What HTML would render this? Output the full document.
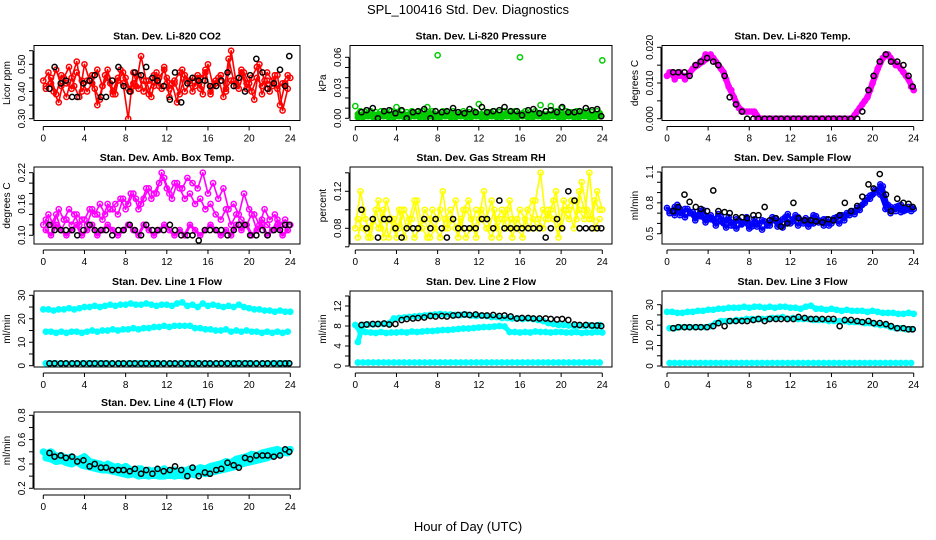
<!DOCTYPE html>
<html><head><meta charset="utf-8"><style>
html,body{margin:0;padding:0;background:#fff;}
svg{display:block;font-family:"Liberation Sans",sans-serif;}
</style></head><body>
<svg id="chart" width="936" height="540" viewBox="0 0 936 540">
<text x="468" y="14" text-anchor="middle" font-size="13">SPL_100416  Std. Dev. Diagnostics</text>
<text x="468" y="531" text-anchor="middle" font-size="13">Hour of Day (UTC)</text>
</svg>
<script>
// ---- data ----
const xTicks = [0,4,8,12,16,20,24];
const hoursA = Array.from({length:49},(_, i)=>i*0.5);
const hoursB = Array.from({length:48},(_, i)=>i*0.5+0.25);
const hoursK = [0.6,1.1,1.7,2.2,2.8,3.3,3.9,4.5,5.0,5.6,6.1,6.7,7.3,7.8,8.4,8.9,9.5,10.0,10.6,11.1,11.7,12.3,12.8,13.4,14.0,14.5,15.1,15.7,16.2,16.8,17.3,17.9,18.5,19.0,19.6,20.1,20.7,21.3,21.8,22.4,23.0,23.5,23.9];

const co2A = [0.44,0.47,0.40,0.36,0.45,0.49,0.42,0.38,0.50,0.44,0.41,0.37,0.46,0.43,0.39,0.48,0.45,0.40,0.42,0.53,0.44,0.38,0.47,0.41,0.45,0.43,0.36,0.48,0.44,0.40,0.46,0.39,0.50,0.42,0.45,0.38,0.52,0.44,0.41,0.47,0.43,0.37,0.50,0.44,0.40,0.46,0.35,0.43,0.45];
const co2B = [0.41,0.43,0.48,0.42,0.38,0.45,0.51,0.40,0.44,0.46,0.35,0.42,0.48,0.40,0.45,0.43,0.30,0.47,0.41,0.44,0.39,0.46,0.42,0.49,0.38,0.44,0.47,0.40,0.43,0.45,0.41,0.48,0.39,0.44,0.46,0.40,0.55,0.43,0.47,0.41,0.45,0.49,0.39,0.44,0.42,0.46,0.33,0.41];
const co2C = [0.42,0.45,0.39,0.46,0.43,0.41,0.47,0.44,0.40,0.43,0.48,0.42,0.45,0.39,0.44,0.47,0.41,0.43,0.46,0.40,0.44,0.42,0.45,0.48,0.41,0.43,0.39,0.46,0.44,0.42,0.45,0.47,0.40,0.43,0.46,0.41,0.44,0.42,0.48,0.43,0.40,0.45,0.42,0.47,0.44,0.41,0.43,0.46];
const co2K = [0.41,0.49,0.43,0.44,0.38,0.38,0.43,0.44,0.46,0.38,0.38,0.44,0.49,0.42,0.40,0.47,0.46,0.49,0.45,0.44,0.42,0.37,0.47,0.36,0.43,0.45,0.44,0.44,0.42,0.42,0.44,0.47,0.42,0.45,0.40,0.46,0.52,0.47,0.41,0.43,0.48,0.42,0.53];

const presA = [0.012,0.007,0.006,0.007,0.006,0.007,0.006,0.007,0.011,0.007,0.006,0.007,0.006,0.007,0.011,0.007,0.062,0.007,0.006,0.007,0.006,0.007,0.006,0.007,0.014,0.007,0.006,0.007,0.006,0.007,0.006,0.007,0.060,0.007,0.006,0.007,0.013,0.007,0.012,0.007,0.010,0.007,0.006,0.007,0.006,0.007,0.006,0.007,0.057];
const presB = [0.004,0.004,0.005,0.004,0.004,0.005,0.004,0.004,0.005,0.004,0.004,0.005,0.004,0.004,0.005,0.004,0.004,0.005,0.004,0.004,0.005,0.004,0.004,0.005,0.004,0.004,0.005,0.004,0.004,0.005,0.004,0.004,0.005,0.004,0.004,0.005,0.004,0.004,0.005,0.004,0.004,0.005,0.004,0.004,0.005,0.004,0.004,0.005];
const presC = [0.001,0.001,0.002,0.001,0.001,0.002,0.001,0.001,0.002,0.001,0.001,0.002,0.001,0.001,0.002,0.001,0.001,0.002,0.001,0.001,0.002,0.001,0.001,0.002,0.001,0.001,0.002,0.001,0.001,0.002,0.001,0.001,0.002,0.001,0.001,0.002,0.001,0.001,0.002,0.001,0.001,0.002,0.001,0.001,0.002,0.001,0.001,0.002];
const presK = [0.006,0.008,0.010,0.000,0.007,0.008,0.005,0.008,0.000,0.006,0.007,0.009,0.000,0.007,0.006,0.007,0.010,0.006,0.005,0.009,0.006,0.011,0.006,0.007,0.008,0.011,0.007,0.007,0.003,0.008,0.009,0.005,0.007,0.008,0.006,0.011,0.006,0.006,0.007,0.010,0.008,0.009,0.002];

const tempA = [0.012,0.013,0.012,0.012,0.012,0.014,0.015,0.016,0.017,0.017,0.015,0.013,0.009,0.006,0.003,0.002,0.002,0.002,0,0,0,0,0,0,0,0,0,0,0,0,0,0,0,0,0,0,0,0.002,0.004,0.006,0.010,0.014,0.017,0.018,0.016,0.015,0.013,0.011,0.008];
const tempB = [0.013,0.011,0.013,0.011,0.013,0.015,0.016,0.018,0.018,0.016,0.014,0.011,0.008,0.004,0.002,0.002,0.002,0,0,0,0,0,0,0,0,0,0,0,0,0,0,0,0,0,0,0,0.001,0.003,0.005,0.008,0.012,0.016,0.018,0.017,0.015,0.014,0.012,0.009];
const tempK = [0.013,0.013,0.013,0.012,0.015,0.016,0.017,0.016,0.015,0.012,0.006,0.004,0.002,0,0,0,0,0,0,0,0,0,0,0,0,0,0,0,0,0,0,0,0,0.002,0.008,0.012,0.016,0.018,0.016,0.016,0.015,0.012,0.009];

const ambA = [0.12,0.14,0.12,0.15,0.13,0.15,0.14,0.12,0.13,0.15,0.14,0.16,0.14,0.15,0.16,0.17,0.15,0.18,0.17,0.16,0.19,0.17,0.18,0.22,0.19,0.17,0.20,0.19,0.21,0.20,0.19,0.22,0.18,0.20,0.17,0.19,0.15,0.16,0.14,0.18,0.15,0.14,0.12,0.15,0.13,0.14,0.12,0.13,0.12];
const ambB = [0.11,0.10,0.12,0.11,0.10,0.11,0.12,0.10,0.11,0.12,0.10,0.11,0.12,0.11,0.10,0.11,0.12,0.11,0.10,0.12,0.11,0.10,0.11,0.12,0.11,0.10,0.11,0.10,0.12,0.11,0.10,0.11,0.12,0.11,0.10,0.11,0.10,0.12,0.11,0.12,0.10,0.11,0.12,0.10,0.11,0.12,0.10,0.11];
const ambC = [0.13,0.12,0.14,0.11,0.13,0.12,0.14,0.13,0.12,0.15,0.14,0.13,0.16,0.15,0.14,0.17,0.16,0.18,0.15,0.17,0.19,0.18,0.20,0.21,0.18,0.20,0.19,0.17,0.18,0.16,0.17,0.15,0.16,0.14,0.13,0.15,0.12,0.14,0.13,0.12,0.14,0.11,0.13,0.12,0.11,0.13,0.12,0.11];
const ambK = [0.12,0.11,0.11,0.11,0.11,0.10,0.11,0.12,0.11,0.11,0.11,0.10,0.11,0.11,0.12,0.11,0.10,0.12,0.11,0.11,0.11,0.12,0.11,0.10,0.10,0.10,0.09,0.11,0.11,0.11,0.11,0.10,0.11,0.12,0.12,0.10,0.10,0.11,0.10,0.11,0.11,0.12,0.12];

const rhA = [0.08,0.12,0.09,0.07,0.10,0.08,0.11,0.09,0.07,0.10,0.08,0.09,0.11,0.08,0.07,0.10,0.09,0.12,0.08,0.09,0.07,0.10,0.11,0.08,0.09,0.12,0.08,0.10,0.07,0.09,0.11,0.08,0.10,0.09,0.08,0.11,0.14,0.09,0.10,0.12,0.08,0.10,0.11,0.09,0.13,0.10,0.09,0.12,0.10];
const rhB = [0.09,0.08,0.07,0.09,0.08,0.10,0.07,0.09,0.08,0.10,0.09,0.07,0.08,0.10,0.09,0.08,0.07,0.09,0.10,0.08,0.09,0.07,0.08,0.10,0.09,0.08,0.07,0.09,0.10,0.08,0.09,0.08,0.07,0.10,0.09,0.08,0.10,0.09,0.11,0.08,0.10,0.09,0.11,0.10,0.09,0.14,0.08,0.09];
const rhC = [0.07,0.10,0.08,0.09,0.11,0.07,0.09,0.08,0.10,0.07,0.09,0.11,0.08,0.09,0.07,0.08,0.10,0.08,0.09,0.11,0.08,0.10,0.09,0.07,0.10,0.09,0.11,0.08,0.09,0.10,0.07,0.09,0.08,0.10,0.11,0.09,0.08,0.10,0.09,0.07,0.11,0.10,0.08,0.12,0.10,0.09,0.11,0.10];
const rhK = [0.10,0.08,0.09,0.07,0.09,0.09,0.08,0.07,0.08,0.08,0.08,0.09,0.08,0.09,0.08,0.07,0.09,0.08,0.08,0.08,0.08,0.09,0.09,0.08,0.11,0.08,0.08,0.08,0.08,0.08,0.08,0.08,0.07,0.08,0.09,0.08,0.12,0.11,0.08,0.08,0.08,0.08,0.08];

const flowA = [0.75,0.72,0.78,0.70,0.74,0.71,0.68,0.73,0.66,0.64,0.69,0.60,0.66,0.58,0.63,0.61,0.55,0.64,0.60,0.62,0.58,0.65,0.62,0.66,0.60,0.68,0.63,0.65,0.60,0.67,0.62,0.64,0.60,0.66,0.68,0.70,0.72,0.75,0.78,0.85,0.88,0.92,0.96,0.78,0.74,0.77,0.72,0.76,0.74];
const flowB = [0.70,0.76,0.68,0.74,0.70,0.66,0.72,0.64,0.68,0.62,0.66,0.63,0.58,0.64,0.60,0.66,0.59,0.57,0.63,0.60,0.66,0.57,0.64,0.69,0.62,0.66,0.60,0.63,0.68,0.61,0.64,0.58,0.65,0.67,0.63,0.70,0.69,0.73,0.80,0.84,0.90,0.98,0.80,0.76,0.72,0.78,0.73,0.75];
const flowC = [0.72,0.68,0.74,0.66,0.70,0.63,0.67,0.61,0.64,0.58,0.62,0.56,0.61,0.55,0.59,0.62,0.57,0.60,0.54,0.58,0.63,0.60,0.56,0.61,0.64,0.58,0.62,0.57,0.60,0.63,0.58,0.61,0.63,0.60,0.66,0.68,0.72,0.76,0.82,0.87,0.93,0.88,0.74,0.70,0.76,0.71,0.74,0.72];
const flowK = [0.72,0.76,0.88,0.81,0.76,0.74,0.72,0.92,0.72,0.71,0.70,0.66,0.66,0.65,0.68,0.68,0.76,0.63,0.65,0.57,0.60,0.80,0.65,0.63,0.63,0.62,0.61,0.64,0.63,0.68,0.80,0.72,0.77,0.86,0.98,0.94,1.08,0.88,0.72,0.84,0.80,0.79,0.76];

const l1A = [24,24,23.5,24,24,24.5,24,24.5,25,25,25.5,25,25.5,26,25.5,26,26,26.5,26,26,26.5,26,25.5,26,26,25.5,26.5,27,25.5,26,25,26.5,25.5,26,25.5,25,25.5,25,26,25,24.5,24,24,23.5,23.5,23,23.5,23,23];
const l1B = [14.5,14.5,14,14.5,14,14.5,14.5,14,14.5,15,14.5,15,15,15.5,15,15.5,15.5,16,15.5,16,16,16.5,16.5,17,16.5,17,17,17,17,16,16,15.5,15.5,15,15,15.5,14.5,15,14.5,15,14.5,14.5,14,14.5,14,14.5,14,14.5];
const l1C = [1,1,1,1,1,1,1,1,1,1,1,1,1,1,1,1,1,1,1,1,1,1,1,1,1,1,1,1,1,1,1,1,1,1,1,1,1,1,1,1,1,1,1,1,1,1,1,1];
const l1K = [1,1,1,1,1,1,1,1,1,1,1,1,1,1,1,1,1,1,1,1,1,1,1,1,1,1,1,1,1,1,1,1,1,1,1,1,1,1,1,1,1,1,1];

const l2A = [8.2,6.8,6.8,6.7,6.6,6.8,6.6,6.7,6.7,6.8,6.7,6.9,6.8,6.9,7.0,7.0,7.1,7.2,7.2,7.3,7.4,7.5,7.5,7.6,7.7,7.8,7.8,7.9,8.0,7.9,6.8,6.8,6.7,6.8,6.7,6.9,6.8,6.8,6.7,6.8,6.8,6.7,6.7,6.8,6.6,6.7,6.7,6.8,6.7];
const l2B = [0.7,0.7,0.7,0.7,0.7,0.7,0.7,0.7,0.7,0.7,0.7,0.7,0.7,0.7,0.7,0.7,0.7,0.7,0.7,0.7,0.7,0.7,0.7,0.7,0.7,0.7,0.7,0.7,0.7,0.7,0.7,0.7,0.7,0.7,0.7,0.7,0.7,0.7,0.7,0.7,0.7,0.7,0.7,0.7,0.7,0.7,0.7,0.7];
const l2C = [4.8,8.2,8.3,8.3,8.4,8.4,8.5,9.5,9.6,9.7,9.8,9.9,10.0,10.1,10.2,10.3,10.4,10.3,10.3,10.2,10.2,10.3,10.1,10.0,10.1,10.0,9.8,9.8,9.6,9.6,9.5,9.5,9.4,9.5,9.4,9.2,9.0,8.6,8.4,8.2,8.2,8.1,8.0,8.1,8.0,8.1,8.0,8.2];
const l2K = [8.2,8.3,8.4,8.4,8.5,8.3,8.4,9.2,9.4,9.5,9.6,9.7,10.0,9.9,10.0,9.9,10.1,10.2,10.3,10.2,10.3,10.1,10.1,10.2,10.0,10.1,9.9,9.5,9.6,9.6,9.5,9.5,9.5,9.4,9.3,9.4,9.2,8.3,8.2,8.2,8.1,8.1,8.0];

const l3A = [26.5,26.5,26,26,26.5,26.5,27,27,27.5,27.5,28,28,28.5,28.5,28.5,29,28.5,29,29,28.5,29,28.5,29,29,28.5,28.5,28,29,29.5,28,28,27.5,28,27.5,27,27.5,27,27,27,26.5,27,26.5,26,26,26,25.5,25.5,26,25.5];
const l3B = [1.5,1.5,1.5,1.5,1.5,1.5,1.5,1.5,1.5,1.5,1.5,1.5,1.5,1.5,1.5,1.5,1.5,1.5,1.5,1.5,1.5,1.5,1.5,1.5,1.5,1.5,1.5,1.5,1.5,1.5,1.5,1.5,1.5,1.5,1.5,1.5,1.5,1.5,1.5,1.5,1.5,1.5,1.5,1.5,1.5,1.5,1.5,1.5];
const l3C = [18.5,18.5,19,19,19,19,19,19,19.5,21,22,22,22,22.5,22.5,23,23,23,23,23,23.5,23.5,24,23,23.5,23,23,23,22.5,22.5,22.5,22,22,22,22,21.5,21.5,21.5,21,21,20.5,20,20,19,18.5,18.5,18,18];
const l3K = [18.5,19,19,19,19,19,19,19.5,21,19.5,22,22,22,22,22.5,23,22,23,23,23,23,23,24,23.5,23,23,23,23,23,19.5,22.5,22.5,22,21.5,22,21,21,20.5,19.5,18.5,18.5,18,18];

const l4A = [0.50,0.48,0.47,0.46,0.45,0.45,0.44,0.43,0.46,0.42,0.41,0.40,0.38,0.39,0.37,0.36,0.38,0.35,0.34,0.36,0.33,0.34,0.35,0.33,0.34,0.32,0.33,0.35,0.33,0.34,0.35,0.33,0.36,0.37,0.38,0.39,0.38,0.40,0.41,0.43,0.44,0.45,0.46,0.47,0.48,0.49,0.50,0.51,0.52];
const l4B = [0.45,0.44,0.42,0.43,0.41,0.40,0.42,0.39,0.38,0.37,0.36,0.35,0.35,0.34,0.33,0.32,0.31,0.32,0.30,0.31,0.30,0.31,0.30,0.30,0.31,0.30,0.31,0.30,0.32,0.31,0.33,0.32,0.33,0.34,0.35,0.36,0.37,0.38,0.40,0.41,0.42,0.43,0.44,0.45,0.47,0.48,0.49,0.50];
const l4C = [0.48,0.50,0.46,0.47,0.44,0.46,0.43,0.45,0.40,0.41,0.39,0.37,0.40,0.36,0.38,0.35,0.36,0.34,0.36,0.33,0.35,0.32,0.34,0.36,0.33,0.35,0.32,0.34,0.36,0.35,0.37,0.36,0.38,0.39,0.40,0.42,0.41,0.44,0.45,0.46,0.48,0.47,0.49,0.50,0.51,0.52,0.50,0.49];
const l4K = [0.49,0.46,0.47,0.45,0.46,0.42,0.43,0.38,0.40,0.37,0.37,0.35,0.35,0.35,0.34,0.36,0.32,0.35,0.32,0.36,0.34,0.35,0.38,0.35,0.30,0.37,0.30,0.33,0.32,0.35,0.36,0.41,0.39,0.37,0.45,0.44,0.47,0.47,0.47,0.46,0.47,0.52,0.50];

// ---- y-axis tick arrays ----
const co2Ticks=[0.30,0.35,0.40,0.45,0.50,0.55], co2Labels=["0.30","","0.40","","0.50",""];
const presTicks=[0,0.01,0.02,0.03,0.04,0.05,0.06], presLabels=["0.00","","","0.03","","","0.06"];
const tempTicks=[0,0.005,0.010,0.015,0.020], tempLabels=["0.000","","0.010","","0.020"];
const ambTicks=[0.10,0.12,0.14,0.16,0.18,0.20,0.22], ambLabels=["0.10","","","0.16","","","0.22"];
const rhTicks=[0.06,0.08,0.10,0.12,0.14], rhLabels=["","0.08","","0.12",""];
const flowTicks=[0.5,0.6,0.7,0.8,0.9,1.0,1.1], flowLabels=["0.5","","","0.8","","","1.1"];
const l1Ticks=[0,5,10,15,20,25,30], l1Labels=["0","","10","","20","","30"];
const l2Ticks=[0,2,4,6,8,10,12,14], l2Labels=["0","","4","","8","","12",""];
const l3Ticks=[0,5,10,15,20,25,30], l3Labels=["0","","10","","20","","30"];
const l4Ticks=[0.2,0.3,0.4,0.5,0.6,0.7,0.8], l4Labels=["0.2","","0.4","","0.6","","0.8"];

// ---- layout ----
const NS="http://www.w3.org/2000/svg";
const svg=document.getElementById('chart');
const cols=[{l:34,r:300,x0:43.3,x24:290.3},{l:350,r:612,x0:355.3,x24:602.3},{l:662,r:923,x0:667,x24:913.7}];
const rows=[{t:45.5,b:120.5},{t:167,b:244},{t:291,b:367},{t:412,b:489}];

const panels=[
 {name:'co2',title:'Stan. Dev. Li-820 CO2',ylab:'Licor ppm',c:0,r:0,v1:0.30,p1:118.7,v2:0.50,p2:64.3,ticks:co2Ticks,labels:co2Labels,color:'#ff0000',series:[co2A,co2B,co2C],black:co2K,lw:[1.6,1.6,1.6]},
 {name:'pressure',title:'Stan. Dev. Li-820 Pressure',ylab:'kPa',c:1,r:0,v1:0,p1:118.3,v2:0.06,p2:57.3,ticks:presTicks,labels:presLabels,color:'#00cc00',series:[presA,presB,presC],black:presK,lw:[0,5,5]},
 {name:'temp',title:'Stan. Dev. Li-820 Temp.',ylab:'degrees C',c:2,r:0,v1:0,p1:118.7,v2:0.020,p2:47.3,ticks:tempTicks,labels:tempLabels,color:'#ff00ff',series:[tempA,tempB],black:tempK,lw:[6,4]},
 {name:'amb-box',title:'Stan. Dev. Amb. Box Temp.',ylab:'degrees C',c:0,r:1,v1:0.10,p1:235.3,v2:0.22,p2:172.7,ticks:ambTicks,labels:ambLabels,color:'#ff00ff',series:[ambA,ambB,ambC],black:ambK,lw:[1.6,3,1.6]},
 {name:'gas-rh',title:'Stan. Dev. Gas Stream RH',ylab:'percent',c:1,r:1,v1:0.08,p1:228.3,v2:0.12,p2:191.3,ticks:rhTicks,labels:rhLabels,color:'#ffff00',series:[rhA,rhB,rhC],black:rhK,lw:[1.6,1.6,1.6]},
 {name:'sample-flow',title:'Stan. Dev. Sample Flow',ylab:'ml/min',c:2,r:1,v1:0.5,p1:233.7,v2:1.1,p2:172,ticks:flowTicks,labels:flowLabels,color:'#0000ff',series:[flowA,flowB,flowC],black:flowK,lw:[3,3,3]},
 {name:'line1',title:'Stan. Dev. Line 1 Flow',ylab:'ml/min',c:0,r:2,v1:0,p1:365.7,v2:30,p2:295.3,ticks:l1Ticks,labels:l1Labels,color:'#00ffff',series:[l1A,l1B,l1C],black:l1K,lw:[4,4,4]},
 {name:'line2',title:'Stan. Dev. Line 2 Flow',ylab:'ml/min',c:1,r:2,v1:0,p1:366,v2:12,p2:306,ticks:l2Ticks,labels:l2Labels,color:'#00ffff',series:[l2A,l2B,l2C],black:l2K,lw:[5,4,5]},
 {name:'line3',title:'Stan. Dev. Line 3 Flow',ylab:'ml/min',c:2,r:2,v1:0,p1:366,v2:30,p2:304.7,ticks:l3Ticks,labels:l3Labels,color:'#00ffff',series:[l3A,l3B,l3C],black:l3K,lw:[5,4,5]},
 {name:'line4',title:'Stan. Dev. Line 4 (LT) Flow',ylab:'ml/min',c:0,r:3,v1:0.2,p1:488.3,v2:0.8,p2:415.3,ticks:l4Ticks,labels:l4Labels,color:'#00ffff',series:[l4A,l4B,l4C],black:l4K,lw:[7,7,7]}
];

function mk(tag,attrs,parent){const e=document.createElementNS(NS,tag);for(const k in attrs)e.setAttribute(k,attrs[k]);(parent||svg).appendChild(e);return e;}

panels.forEach(p=>{
 const C=cols[p.c],R=rows[p.r];
 const g=mk('g',{});
 
 
 const xs=h=>C.x0+(C.x24-C.x0)*h/24;
 const ys=v=>p.p1+(p.p2-p.p1)*(v-p.v1)/(p.v2-p.v1);
 const clipId='clip-'+p.name;
 const cp=mk('clipPath',{id:clipId},g);
 mk('rect',{x:C.l,y:R.t,width:C.r-C.l,height:R.b-R.t},cp);
 const marks=mk('g',{'clip-path':'url(#'+clipId+')'},g);
 
 
 p.series.forEach((arr,si)=>{
  const hrs=(si===0)?hoursA:hoursB;
  const n=Math.min(arr.length,hrs.length);
  const w=p.lw[si];
  if(w>0){
   const pl=mk('polyline',{points:arr.slice(0,n).map((v,i)=>xs(hrs[i])+','+ys(v)).join(' '),fill:'none',stroke:p.color,'stroke-width':w,'stroke-linejoin':'round','stroke-linecap':'round'},marks);
   
   
  }
  for(let i=0;i<n;i++){
   const c=mk('circle',{cx:xs(hrs[i]),cy:ys(arr[i]),r:2.6,fill:'none',stroke:p.color,'stroke-width':1.5},marks);
   
   
  }
 });
 const nk=Math.min(p.black.length,hoursK.length);
 for(let i=0;i<nk;i++){
  const c=mk('circle',{cx:xs(hoursK[i]),cy:ys(p.black[i]),r:2.6,fill:'none',stroke:'#000','stroke-width':1.5},marks);
  
  
 }
 const box=mk('rect',{x:C.l,y:R.t,width:C.r-C.l,height:R.b-R.t,fill:'none',stroke:'#000','stroke-width':1},g);
 
 
 const t=mk('text',{x:(C.l+C.r)/2,y:R.t-6,'text-anchor':'middle','font-size':10.5,'font-weight':'bold'},g);
 t.textContent=p.title;
 
 
 const ay=R.b+6;
 const xa=mk('g',{},g);
 
 
 mk('line',{x1:xs(0),x2:xs(24),y1:ay,y2:ay,stroke:'#000','stroke-width':1},xa);
 xTicks.forEach(h=>{
  mk('line',{x1:xs(h),x2:xs(h),y1:ay,y2:ay+4,stroke:'#000','stroke-width':1},xa);
  const l=mk('text',{x:xs(h),y:ay+15,'text-anchor':'middle','font-size':10},xa);
  l.textContent=h;
  
  
 });
 const ax=C.l-1;
 const ya=mk('g',{},g);
 
 
 const yy=p.ticks.map(ys).filter(y=>y>=R.t-3&&y<=R.b+3);
 mk('line',{x1:ax,x2:ax,y1:Math.min(...yy),y2:Math.max(...yy),stroke:'#000','stroke-width':1},ya);
 p.ticks.forEach((v,i)=>{
  const y=ys(v); if(y<R.t-3||y>R.b+3) return;
  mk('line',{x1:ax-4,x2:ax,y1:y,y2:y,stroke:'#000','stroke-width':1},ya);
  if(p.labels[i]){
   const l=mk('text',{x:ax-8,y:y,'text-anchor':'middle','font-size':10,transform:`rotate(-90 ${ax-8} ${y})`},ya);
   l.textContent=p.labels[i];
   
   
  }
 });
 const yl=mk('text',{x:C.l-24,y:(R.t+R.b)/2,'text-anchor':'middle','font-size':10,transform:`rotate(-90 ${C.l-24} ${(R.t+R.b)/2})`},g);
 yl.textContent=p.ylab;
 
 
});
</script>
</body></html>
